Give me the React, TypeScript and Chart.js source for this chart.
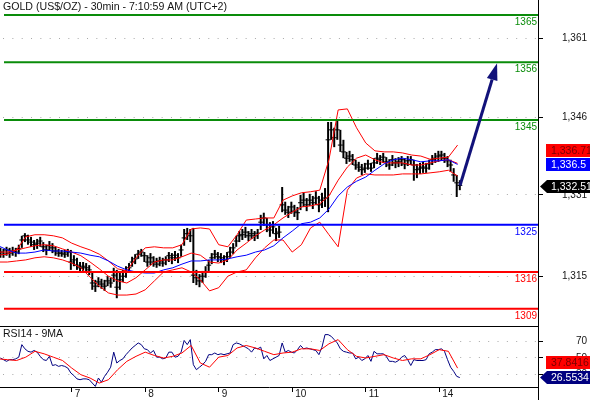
import React, { useEffect, useRef } from 'react';
import { Chart, registerables } from 'chart.js';

Chart.register(...registerables);

const FONT = '"Liberation Sans", Arial, Helvetica, sans-serif';

const TITLE = 'GOLD (US$/OZ) - 30min - 7:10:59 AM (UTC+2)';
const RSI_TITLE = 'RSI14 - 9MA';

// x axis: trading-day index (7..11 -> 7th..11th, 12 -> 14th)
const X_MIN = 6.0245;
const X_MAX = 13.344;
const DAY_TICKS = [7, 8, 9, 10, 11, 12];
const DAY_LABELS = ['7', '8', '9', '10', '11', '14'];

// hourly bars
const BAR_START = 6.03;
const BAR_STEP = 1 / 24;

const CLOSES = [
  1319.8, 1319.4, 1320.2, 1319.6, 1320.0, 1319.8, 1320.4, 1322.1, 1322.9, 1322.1,
  1321.7, 1321.2, 1321.5, 1321.9, 1320.8, 1320.2, 1321.0, 1320.6, 1320.0, 1319.6,
  1319.6, 1319.4, 1319.8, 1317.9, 1318.3, 1317.3, 1316.8, 1317.1, 1316.8, 1316.4,
  1313.9, 1313.3, 1314.1, 1313.7, 1313.3, 1314.3, 1313.9, 1315.4, 1313.1, 1314.5,
  1315.2, 1316.0, 1316.8, 1317.9, 1318.5, 1319.4, 1319.8, 1319.1, 1317.9, 1318.7,
  1317.9, 1317.5, 1318.1, 1317.7, 1318.3, 1319.1, 1318.7, 1319.2, 1318.7, 1320.2,
  1322.5, 1323.3, 1322.9, 1315.4, 1314.9, 1314.3, 1315.2, 1316.0, 1317.3, 1318.7,
  1319.4, 1318.9, 1318.7, 1318.3, 1318.9, 1319.8, 1320.6, 1321.9, 1322.9, 1323.1,
  1323.6, 1322.9, 1323.3, 1322.9, 1323.4, 1325.5, 1326.3, 1325.0, 1324.0, 1324.6,
  1323.3, 1323.6, 1328.8, 1327.8, 1327.4, 1328.4, 1327.6, 1327.3, 1329.2, 1329.7,
  1328.8, 1329.7, 1329.2, 1330.1, 1328.8, 1329.7, 1330.1, 1341.2, 1343.1, 1341.6,
  1343.1, 1340.2, 1338.9, 1337.7, 1338.1, 1337.4, 1336.4, 1336.0, 1335.5, 1335.8,
  1336.6, 1335.8, 1336.8, 1337.7, 1337.4, 1337.9, 1337.0, 1336.4, 1337.4, 1336.8,
  1337.0, 1337.4, 1336.6, 1337.2, 1337.4, 1336.4, 1335.5, 1335.8, 1336.0, 1335.8,
  1336.6, 1337.4, 1337.7, 1338.1, 1338.3, 1337.7, 1337.2, 1336.4, 1334.5, 1333.0,
  1332.51,
];

const HIGHS = [
  1320.6, 1320.4, 1320.8, 1320.6, 1320.8, 1320.6, 1321.2, 1322.9, 1323.4, 1323.1,
  1322.7, 1322.1, 1322.3, 1322.7, 1321.7, 1321.2, 1321.9, 1321.5, 1320.8, 1320.4,
  1320.2, 1320.2, 1320.4, 1320.2, 1319.2, 1318.7, 1317.9, 1317.9, 1317.7, 1317.3,
  1316.0, 1314.5, 1315.0, 1314.7, 1314.5, 1315.2, 1314.9, 1316.8, 1316.4, 1316.0,
  1316.4, 1317.1, 1317.7, 1318.9, 1319.4, 1320.2, 1320.4, 1319.8, 1319.2, 1319.6,
  1319.0, 1318.7, 1318.9, 1318.7, 1319.0, 1319.8, 1319.6, 1320.0, 1319.6, 1321.2,
  1324.2, 1324.4, 1324.2, 1324.4, 1316.4, 1315.6, 1316.2, 1317.1, 1318.3, 1319.6,
  1320.2, 1319.8, 1319.6, 1319.2, 1319.8, 1320.8, 1321.5, 1322.9, 1323.8, 1324.2,
  1324.6, 1323.8, 1324.2, 1323.8, 1324.2, 1326.9, 1327.3, 1326.3, 1325.5, 1325.7,
  1324.4, 1324.8, 1332.2, 1329.4, 1328.6, 1329.4, 1328.8, 1328.4, 1330.7, 1331.1,
  1330.1, 1330.9, 1330.5, 1331.4, 1330.5, 1331.1, 1332.0, 1344.6, 1344.6, 1343.5,
  1345.0, 1343.1, 1341.2, 1338.9, 1339.1, 1338.5, 1337.4, 1337.0, 1336.6, 1336.8,
  1337.4, 1336.8, 1337.7, 1338.7, 1338.3, 1338.7, 1337.9, 1337.5, 1338.3, 1337.7,
  1337.9, 1338.1, 1337.7, 1338.1, 1338.1, 1337.4, 1336.6, 1336.8, 1337.0, 1336.8,
  1337.4, 1338.3, 1338.7, 1339.1, 1339.1, 1338.7, 1338.1, 1337.4, 1335.8, 1334.5,
  1333.5,
];

const LOWS = [
  1318.7, 1318.7, 1319.1, 1318.7, 1319.1, 1318.9, 1319.4, 1320.6, 1321.7, 1321.2,
  1320.8, 1320.2, 1320.4, 1320.8, 1319.8, 1319.2, 1320.0, 1319.6, 1319.1, 1318.9,
  1318.9, 1318.7, 1318.9, 1316.4, 1317.1, 1316.4, 1316.0, 1316.2, 1316.0, 1315.4,
  1312.6, 1312.2, 1313.1, 1312.8, 1312.4, 1313.3, 1313.0, 1314.1, 1311.0, 1312.6,
  1314.1, 1314.9, 1315.8, 1317.0, 1317.5, 1318.5, 1318.9, 1317.9, 1317.0, 1317.3,
  1317.0, 1316.8, 1317.1, 1317.0, 1317.3, 1317.9, 1317.5, 1318.1, 1317.7, 1318.9,
  1321.0, 1322.1, 1321.7, 1313.9, 1313.5, 1313.1, 1313.9, 1314.9, 1316.2, 1317.5,
  1318.5, 1317.9, 1317.7, 1317.3, 1317.9, 1318.7, 1319.4, 1320.8, 1321.7, 1322.1,
  1322.5, 1321.9, 1322.3, 1321.9, 1322.3, 1324.0, 1324.8, 1323.6, 1322.7, 1323.3,
  1321.9, 1322.5, 1327.4, 1326.9, 1326.3, 1327.1, 1326.5, 1325.9, 1327.8, 1328.4,
  1327.6, 1328.6, 1328.0, 1328.8, 1327.4, 1328.2, 1328.4, 1327.4, 1341.2, 1339.8,
  1341.2, 1338.9, 1337.7, 1336.6, 1337.0, 1336.4, 1335.5, 1335.1, 1334.5, 1334.9,
  1335.5, 1335.1, 1335.8, 1336.6, 1336.4, 1336.8, 1336.0, 1335.5, 1336.2, 1335.8,
  1336.0, 1336.2, 1335.6, 1336.2, 1336.4, 1333.4, 1333.9, 1334.7, 1334.9, 1334.9,
  1335.5, 1336.4, 1336.8, 1337.0, 1337.2, 1336.8, 1336.0, 1335.1, 1333.2, 1330.3,
  1331.6,
];

// band / moving-average sample points every 3 hours
const BAND_START = 6.0;
const BAND_STEP = 0.125;

const UPPER_BAND = [
  1319.8, 1319.8, 1320.2, 1322.7, 1323.1, 1323.1, 1322.9, 1322.5, 1321.5, 1320.8,
  1320.2, 1319.4, 1318.1, 1316.6, 1316.2, 1318.7, 1320.6, 1320.8, 1320.6, 1320.6,
  1321.2, 1324.2, 1324.4, 1324.2, 1321.2, 1320.8, 1323.1, 1325.9, 1326.1, 1326.3,
  1326.3, 1329.7, 1330.5, 1331.1, 1331.3, 1331.6, 1337.4, 1346.9, 1347.1, 1343.5,
  1340.6, 1339.1, 1338.9, 1338.9, 1338.7, 1338.3, 1338.1, 1337.5, 1337.7, 1337.9,
  1340.2,
];

const MIDDLE_BAND = [
  1319.2, 1319.4, 1320.2, 1320.6, 1321.0, 1321.2, 1321.0, 1320.4, 1319.8, 1319.1,
  1317.9, 1316.6, 1315.2, 1314.3, 1313.9, 1314.9, 1316.4, 1317.9, 1318.3, 1318.3,
  1318.9, 1319.6, 1319.2, 1317.9, 1317.7, 1318.3, 1320.2, 1321.5, 1322.9, 1324.0,
  1325.0, 1326.3, 1327.4, 1328.4, 1328.6, 1329.0, 1330.5, 1333.5, 1336.0, 1337.7,
  1338.3, 1337.4, 1336.8, 1336.8, 1336.8, 1336.4, 1336.4, 1336.8, 1337.2, 1337.4,
  1336.71,
];

const LOWER_BAND = [
  1317.9, 1317.9, 1318.1, 1318.3, 1318.7, 1318.9, 1318.7, 1318.3, 1317.7, 1316.8,
  1315.0, 1313.3, 1312.0, 1311.6, 1311.6, 1311.8, 1312.6, 1314.3, 1316.0, 1316.4,
  1316.8, 1316.0, 1314.5, 1312.4, 1313.0, 1315.2, 1316.0, 1316.4, 1318.7, 1320.6,
  1322.1, 1322.1, 1319.8, 1321.2, 1324.4, 1325.5, 1323.1, 1320.8, 1331.6, 1333.9,
  1334.7, 1334.5, 1334.5, 1334.5, 1334.7, 1334.7, 1334.7, 1334.9, 1335.1, 1335.4,
  1334.3,
];

const MA_LINE = [
  1321.0, 1320.2, 1319.6, 1319.6, 1319.8, 1320.2, 1320.0, 1320.0, 1319.8, 1319.6,
  1319.2, 1318.9, 1318.1, 1317.1, 1316.4, 1316.0, 1315.8, 1315.8, 1316.4, 1316.8,
  1317.5, 1318.1, 1318.1, 1318.3, 1318.3, 1318.5, 1318.9, 1319.2, 1319.8, 1320.2,
  1321.0, 1322.5, 1323.8, 1325.2, 1325.5, 1326.3, 1328.0, 1330.5, 1332.2, 1333.3,
  1334.1, 1335.4, 1336.6, 1337.4, 1337.7, 1337.4, 1337.0, 1337.2, 1337.2, 1337.4,
  1336.5,
];

const RSI = [
  50, 48, 46, 48, 48, 49, 51, 66, 61, 58,
  57, 59, 57, 52, 48, 47, 52, 41, 42, 40,
  41, 40, 38, 32, 29, 25, 24, 25, 25, 24,
  20, 16, 26, 21, 28, 33, 39, 57, 44, 47,
  49, 54, 58, 62, 65, 68, 66, 61, 60, 56,
  59, 51, 51, 49, 50, 57, 57, 51, 52, 57,
  71, 66, 72, 42, 36, 39, 42, 46, 54, 54,
  56, 54, 55, 54, 55, 56, 66, 68, 67, 65,
  63, 61, 57, 62, 61, 63, 49, 53, 47, 49,
  51, 53, 68, 57, 59, 57, 56, 60, 65, 61,
  62, 61, 60, 59, 54, 63, 78, 78, 76, 72,
  68, 61, 58, 57, 56, 56, 49, 51, 47, 49,
  53, 46, 58, 55, 55, 55, 52, 46, 46, 45,
  47, 51, 53, 48, 41, 48, 47, 47, 47, 48,
  55, 57, 60, 60, 61, 58, 48, 39, 34, 28,
  26.5534,
];

const RSI_MA = [
  49, 48, 47, 51, 58, 55, 51, 47, 38, 30,
  26, 20, 24, 36, 46, 52, 57, 53, 50, 52,
  56, 65, 44, 39, 51, 53, 62, 65, 62, 58,
  54, 56, 57, 61, 61, 59, 67, 72, 60, 52,
  50, 52, 54, 50, 47, 49, 49, 54, 60, 58,
  37.8416,
];

const LEVELS = [1365, 1356, 1345, 1325, 1316, 1309];
const LEVEL_COLORS = ['#0a8c0a', '#0a8c0a', '#0a8c0a', '#0000ff', '#ff0000', '#ff0000'];
const LEVEL_START = 6.079;

const PRICE_MIN = 1305.7;
const PRICE_MAX = 1367.86;
const PRICE_TICKS = [1315.2, 1330.7, 1345.5, 1360.6];

const RSI_MIN = 15.27;
const RSI_MAX = 88.32;
const RSI_TICKS = [30, 50, 70];

const ARROW_FROM_X = 12.283;
const ARROW_FROM_Y = 1332.5;
const ARROW_TO_X = 12.787;
const ARROW_TO_Y = 1355.8;
const ARROW_COLOR = '#12127a';

const fmtPrice = (v: number) =>
  new Intl.NumberFormat('en-US', { maximumFractionDigits: 2 }).format(v);

function drawTag(ctx: CanvasRenderingContext2D, cy: number, text: string, bg: string, fg: string, pointer: boolean) {
  const left = 546;
  const right = 590;
  const h = 13;
  const top = Math.round(cy - h / 2);
  ctx.fillStyle = bg;
  ctx.beginPath();
  if (pointer) {
    ctx.moveTo(540, top + h / 2);
    ctx.lineTo(left + 1, top);
    ctx.lineTo(right, top);
    ctx.lineTo(right, top + h);
    ctx.lineTo(left + 1, top + h);
    ctx.closePath();
  } else {
    ctx.rect(left, top, right - left, h);
  }
  ctx.fill();
  ctx.fillStyle = fg;
  ctx.font = `10.5px ${FONT}`;
  ctx.textAlign = 'left';
  ctx.textBaseline = 'middle';
  ctx.fillText(text, 551, top + h / 2 + 0.5);
}

const topOverlay = {
  id: 'topOverlay',
  afterDraw(chart: any) {
    const { ctx, chartArea, scales } = chart;
    const xs = scales.x;
    const ys = scales.y;
    ctx.save();
    // title
    ctx.font = `10.6px ${FONT}`;
    ctx.fillStyle = '#141414';
    ctx.textAlign = 'left';
    ctx.textBaseline = 'top';
    ctx.fillText(TITLE, 3, 2);
    // level labels
    ctx.font = `10px ${FONT}`;
    ctx.textAlign = 'right';
    LEVELS.forEach((lv, i) => {
      ctx.fillStyle = LEVEL_COLORS[i];
      ctx.fillText(String(lv), chartArea.right - 1, ys.getPixelForValue(lv) + 2.5);
    });
    // arrow
    const x0 = xs.getPixelForValue(ARROW_FROM_X);
    const y0 = ys.getPixelForValue(ARROW_FROM_Y);
    const x1 = xs.getPixelForValue(ARROW_TO_X);
    const y1 = ys.getPixelForValue(ARROW_TO_Y);
    const ang = Math.atan2(y1 - y0, x1 - x0);
    const headLen = 17;
    const headW = 5.5;
    const bx = x1 - headLen * Math.cos(ang);
    const by = y1 - headLen * Math.sin(ang);
    ctx.strokeStyle = ARROW_COLOR;
    ctx.fillStyle = ARROW_COLOR;
    ctx.lineWidth = 3;
    ctx.beginPath();
    ctx.moveTo(x0, y0);
    ctx.lineTo(bx, by);
    ctx.stroke();
    ctx.beginPath();
    ctx.moveTo(x1, y1);
    ctx.lineTo(bx + headW * Math.sin(ang), by - headW * Math.cos(ang));
    ctx.lineTo(bx - headW * Math.sin(ang), by + headW * Math.cos(ang));
    ctx.closePath();
    ctx.fill();
    // value tags
    const maVal = MA_LINE[MA_LINE.length - 1];
    const midVal = MIDDLE_BAND[MIDDLE_BAND.length - 1];
    const lastVal = CLOSES[CLOSES.length - 1];
    const blueCy = ys.getPixelForValue(maVal);
    const redCy = Math.min(ys.getPixelForValue(midVal), blueCy - 14);
    drawTag(ctx, redCy, fmtPrice(midVal), '#ff0000', '#7a0000', false);
    drawTag(ctx, blueCy, fmtPrice(maVal), '#0000ff', '#ffffff', false);
    drawTag(ctx, ys.getPixelForValue(lastVal) + 1, fmtPrice(lastVal), '#000000', '#ffffff', true);
    ctx.restore();
  },
};

const bottomOverlay = {
  id: 'bottomOverlay',
  afterDraw(chart: any) {
    const { ctx, chartArea, scales, height } = chart;
    const ys = scales.y;
    ctx.save();
    ctx.strokeStyle = '#000';
    ctx.lineWidth = 1;
    ctx.beginPath();
    ctx.moveTo(0, 0.5);
    ctx.lineTo(chartArea.right, 0.5);
    ctx.moveTo(chartArea.right + 0.5, 0);
    ctx.lineTo(chartArea.right + 0.5, height);
    ctx.stroke();
    ctx.font = `10.5px ${FONT}`;
    ctx.fillStyle = '#141414';
    ctx.textAlign = 'left';
    ctx.textBaseline = 'top';
    ctx.fillText(RSI_TITLE, 3, 3);
    const rsiVal = RSI[RSI.length - 1];
    const maVal = RSI_MA[RSI_MA.length - 1];
    const navyCy = ys.getPixelForValue(rsiVal);
    const redCy = Math.min(ys.getPixelForValue(maVal), navyCy - 15);
    drawTag(ctx, redCy, maVal.toFixed(4), '#ff0000', '#7a0000', false);
    drawTag(ctx, navyCy, rsiVal.toFixed(4), '#000080', '#ffffff', true);
    ctx.restore();
  },
};

const barX = (i: number) => BAR_START + i * BAR_STEP;
const bandX = (k: number) => BAND_START + k * BAND_STEP;
const linePts = (arr: number[]) => arr.map((v, k) => ({ x: bandX(k), y: v }));

const AXIS_WIDTH = 49;
const RIGHT_PAD = 3;

function topConfig(): any {
  const datasets: any[] = [];
  LEVELS.forEach((lv, i) => {
    datasets.push({
      type: 'line',
      data: [{ x: LEVEL_START, y: lv }, { x: X_MAX, y: lv }],
      borderColor: LEVEL_COLORS[i],
      borderWidth: 2,
      pointRadius: 0,
      order: 1,
    });
  });
  datasets.push({
    type: 'line',
    data: linePts(MA_LINE),
    borderColor: '#0000ff',
    borderWidth: 1,
    pointRadius: 0,
    order: 2,
  });
  [UPPER_BAND, MIDDLE_BAND, LOWER_BAND].forEach((arr) => {
    datasets.push({
      type: 'line',
      data: linePts(arr),
      borderColor: '#ff0000',
      borderWidth: 1,
      pointRadius: 0,
      order: 3,
    });
  });
  datasets.push({
    type: 'line',
    data: CLOSES.map((c, i) => ({ x: barX(i), y: c })),
    showLine: false,
    pointStyle: 'line',
    pointRadius: 2.5,
    pointBorderColor: '#000',
    pointBorderWidth: 1,
    order: 4,
  });
  datasets.push({
    type: 'bar',
    data: CLOSES.map((_, i) => ({ x: barX(i), y: [LOWS[i], HIGHS[i]] })),
    backgroundColor: '#000',
    borderWidth: 0,
    barThickness: 2,
    inflateAmount: 0,
    order: 5,
  });
  return {
    type: 'line',
    data: { datasets },
    plugins: [topOverlay],
    options: {
      responsive: false,
      animation: false,
      events: [],
      layout: { padding: { left: 0, top: 0, bottom: 0, right: RIGHT_PAD }, autoPadding: false },
      plugins: { legend: { display: false }, tooltip: { enabled: false } },
      scales: {
        x: { type: 'linear', display: false, min: X_MIN, max: X_MAX, offset: false },
        y: {
          type: 'linear',
          position: 'right',
          min: PRICE_MIN,
          max: PRICE_MAX,
          afterBuildTicks: (s: any) => { s.ticks = PRICE_TICKS.map((v) => ({ value: v })); },
          afterFit: (s: any) => { s.width = AXIS_WIDTH; s.paddingTop = 0; s.paddingBottom = 0; },
          grid: { color: '#a8a8a8', lineWidth: 1, drawTicks: true, tickLength: 5, tickColor: '#000' },
          border: { display: true, color: '#000', width: 1, dash: [1, 8.33], dashOffset: 6.3 },
          ticks: {
            color: '#141414',
            font: { family: FONT, size: 10 },
            padding: 4,
            crossAlign: 'far',
            callback: (v: any) => Math.round(Number(v)).toLocaleString('en-US'),
          },
        },
      },
    },
  };
}

function bottomConfig(): any {
  return {
    type: 'line',
    data: {
      datasets: [
        {
          data: RSI_MA.map((v, k) => ({ x: bandX(k), y: v })),
          borderColor: '#ff0000',
          borderWidth: 1,
          pointRadius: 0,
          order: 1,
        },
        {
          data: RSI.map((v, i) => ({ x: barX(i), y: v })),
          borderColor: '#000080',
          borderWidth: 1,
          pointRadius: 0,
          order: 2,
        },
      ],
    },
    plugins: [bottomOverlay],
    options: {
      responsive: false,
      animation: false,
      events: [],
      layout: { padding: { left: 0, top: 0, bottom: 0, right: RIGHT_PAD }, autoPadding: false },
      plugins: { legend: { display: false }, tooltip: { enabled: false } },
      scales: {
        x: {
          type: 'linear',
          position: 'bottom',
          min: X_MIN,
          max: X_MAX,
          offset: false,
          afterBuildTicks: (s: any) => { s.ticks = DAY_TICKS.map((v) => ({ value: v })); },
          afterFit: (s: any) => { s.height = 13; s.paddingLeft = 0; s.paddingRight = 0; },
          grid: { drawOnChartArea: false, drawTicks: true, tickLength: 5, tickColor: '#000' },
          border: { display: true, color: '#000', width: 1 },
          ticks: {
            align: 'start',
            labelOffset: 3,
            padding: -4,
            maxRotation: 0,
            autoSkip: false,
            color: '#141414',
            font: { family: FONT, size: 10 },
            callback: (v: any) => DAY_LABELS[DAY_TICKS.indexOf(Number(v))],
          },
        },
        y: {
          type: 'linear',
          position: 'right',
          min: RSI_MIN,
          max: RSI_MAX,
          afterBuildTicks: (s: any) => { s.ticks = RSI_TICKS.map((v) => ({ value: v })); },
          afterFit: (s: any) => { s.width = AXIS_WIDTH; s.paddingTop = 0; s.paddingBottom = 0; },
          grid: { color: '#a8a8a8', lineWidth: 1, drawTicks: true, tickLength: 5, tickColor: '#000' },
          border: { display: true, color: '#000', width: 1, dash: [1, 8.33], dashOffset: 6.3 },
          ticks: {
            color: '#141414',
            font: { family: FONT, size: 10 },
            padding: 4,
            crossAlign: 'far',
            callback: (v: any) => String(v),
          },
        },
      },
    },
  };
}

export default function App() {
  const topRef = useRef<HTMLCanvasElement>(null);
  const botRef = useRef<HTMLCanvasElement>(null);
  useEffect(() => {
    const top = new Chart(topRef.current as HTMLCanvasElement, topConfig());
    const bot = new Chart(botRef.current as HTMLCanvasElement, bottomConfig());
    return () => {
      top.destroy();
      bot.destroy();
    };
  }, []);
  return (
    <div style={{ position: 'absolute', left: 0, top: 0, width: 590, height: 400, background: '#fff', overflow: 'hidden' }}>
      <canvas ref={topRef} width={590} height={326} style={{ position: 'absolute', left: 0, top: 0, width: 590, height: 326 }} />
      <canvas ref={botRef} width={590} height={74} style={{ position: 'absolute', left: 0, top: 326, width: 590, height: 74 }} />
    </div>
  );
}
